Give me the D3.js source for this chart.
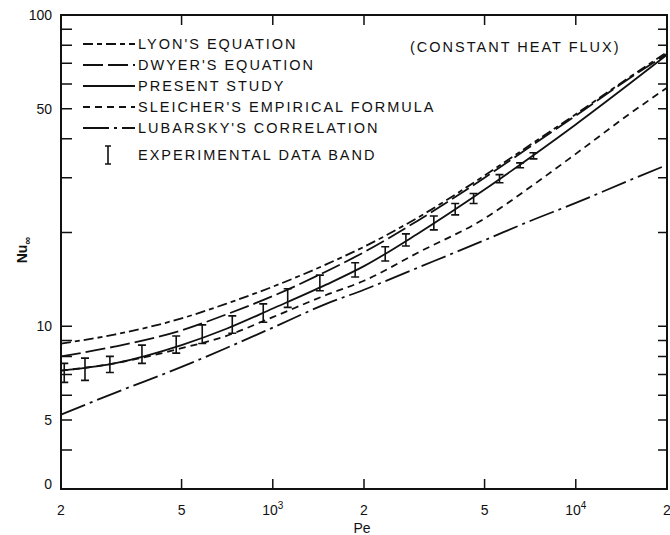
<!DOCTYPE html>
<html>
<head>
<meta charset="utf-8">
<script src="https://d3js.org/d3.v7.min.js"></script>
<style>
  body { margin: 0; background: #fff; }
  text { font-family: "Liberation Sans", Arial, sans-serif; fill: #111; }
</style>
</head>
<body>
<div id="chart"></div>
<script>
// Data (constant heat flux)
var pe = [200, 300, 500, 700, 1000, 1500, 2000, 3000, 5000, 7000, 10000, 15000, 20000];
var lyon     = [8.8, 9.4, 10.6, 11.8, 13.4, 15.8, 18.0, 22.3, 30.5, 38.0, 48.0, 63.0, 76.0];
var dwyer    = [8.0, 8.6, 9.7, 10.9, 12.5, 15.0, 17.3, 21.8, 30.0, 37.5, 47.5, 62.5, 75.0];
var present  = [7.2, 7.6, 8.7, 9.8, 11.4, 13.6, 15.6, 19.8, 27.5, 34.6, 44.5, 60.0, 74.5];
var sleicher = [7.2, 7.6, 8.5, 9.3, 10.7, 12.6, 14.0, 17.2, 22.2, 27.8, 35.8, 48.0, 58.4];
var lubarsky = [5.2, 6.1, 7.4, 8.5, 9.9, 11.8, 13.1, 15.4, 18.9, 21.7, 24.9, 29.4, 33.0];

// experimental data band
var errPe = [205, 240, 290, 370, 480, 585, 735, 930, 1120, 1430, 1870, 2350, 2750, 3400, 4000, 4600, 5600, 6550, 7250];
var errLo = [6.6, 6.7, 7.1, 7.6, 8.2, 8.8, 9.5, 10.3, 11.5, 13.0, 14.4, 16.2, 18.1, 20.4, 22.8, 24.8, 28.9, 32.3, 34.5];
var errHi = [7.6, 7.9, 8.0, 8.7, 9.3, 10.1, 10.8, 11.8, 13.2, 14.6, 16.0, 18.0, 19.8, 22.6, 24.8, 26.7, 30.7, 33.5, 36.1];

// ticks
var xTicks = [500, 1000, 2000, 5000, 10000];
var xTickLabels = [[200, "2"], [500, "5"], [1000, "10", "3"], [2000, "2"], [5000, "5"], [10000, "10", "4"], [20000, "2"]];
var yTicks = [4, 5, 6, 7, 8, 9, 10, 20, 30, 40, 50, 60, 70, 80, 90];
var yTickLabels = [[100, "100"], [50, "50"], [10, "10"], [5, "5"], [3, "0"]];

var legendNames = ["LYON'S EQUATION", "DWYER'S EQUATION", "PRESENT STUDY", "SLEICHER'S EMPIRICAL FORMULA", "LUBARSKY'S CORRELATION"];
var dashes = ["10,4,5,4", "20,5", null, "7,5", "26,5,3,5"];

var svgWidth = 670;
var svgHeight = 535;

var svg = d3.select("#chart")
  .append("svg")
  .attr("width", svgWidth)
  .attr("height", svgHeight);

var xScale = d3.scaleLog().domain([200, 20000]).range([61, 667]);
var yScale = d3.scaleLog().domain([3, 100]).range([489, 15]);

var x0 = xScale.range()[0], x1 = xScale.range()[1];
var y0 = yScale.range()[0], y1 = yScale.range()[1];

// frame
svg.append("rect")
  .attr("x", x0).attr("y", y1)
  .attr("width", x1 - x0).attr("height", y0 - y1)
  .attr("fill", "none").attr("stroke", "#111").attr("stroke-width", 2);

// inward ticks, all four sides
svg.selectAll(".xt").data(xTicks).enter().append("path")
  .attr("d", d => `M${xScale(d)},${y0}v-10M${xScale(d)},${y1}v10`)
  .attr("stroke", "#111").attr("stroke-width", 1.5);

svg.selectAll(".yt").data(yTicks).enter().append("path")
  .attr("d", d => `M${x0},${yScale(d)}h11M${x1},${yScale(d)}h-9`)
  .attr("stroke", "#111").attr("stroke-width", 1.5);

// x tick labels
var xl = svg.selectAll(".xl").data(xTickLabels).enter().append("text")
  .attr("x", d => xScale(d[0]))
  .attr("y", 515)
  .attr("text-anchor", "middle")
  .attr("font-size", "14px");
xl.append("tspan").text(d => d[1]);
xl.filter(d => d[2]).append("tspan")
  .attr("dy", -6).attr("font-size", "10px").text(d => d[2]);

// y tick labels
svg.selectAll(".yl").data(yTickLabels).enter().append("text")
  .attr("x", 52)
  .attr("y", d => yScale(d[0]) + (d[1] === "0" ? -5 : 0))
  .attr("dy", "0.36em")
  .attr("text-anchor", "end")
  .attr("font-size", "14px")
  .text(d => d[1]);

// axis titles
svg.append("text")
  .attr("x", 362).attr("y", 533)
  .attr("text-anchor", "middle")
  .attr("font-size", "14px")
  .text("Pe");

var ny = svg.append("text")
  .attr("transform", "translate(27,250) rotate(-90)")
  .attr("text-anchor", "middle")
  .attr("font-size", "14px")
  .attr("font-weight", "bold");
ny.append("tspan").text("Nu");
ny.append("tspan").attr("dy", 4).attr("font-size", "11px").text("∞");

// curves
var curves = [lyon, dwyer, present, sleicher, lubarsky];
var line = d3.line()
  .x((d, i) => xScale(pe[i]))
  .y(d => yScale(d))
  .curve(d3.curveMonotoneX);

svg.selectAll(".curve").data(curves).enter().append("path")
  .attr("d", d => line(d))
  .attr("fill", "none")
  .attr("stroke", "#111")
  .attr("stroke-width", 1.8)
  .attr("stroke-dasharray", (d, i) => dashes[i]);

// error bars
var bars = svg.selectAll(".eb").data(errPe).enter().append("g");
bars.append("path")
  .attr("d", (d, i) => {
    var x = xScale(d), a = yScale(errHi[i]), b = yScale(errLo[i]);
    return `M${x},${a}V${b}M${x - 4},${a}h8M${x - 4},${b}h8`;
  })
  .attr("fill", "none").attr("stroke", "#111").attr("stroke-width", 1.6);

// legend
var legY = [44, 65, 86, 107, 128];
svg.selectAll(".lg").data(legendNames).enter().append("path")
  .attr("d", (d, i) => `M83,${legY[i]}H135`)
  .attr("stroke", "#111").attr("stroke-width", 1.8)
  .attr("stroke-dasharray", (d, i) => dashes[i]);

svg.selectAll(".lt").data(legendNames).enter().append("text")
  .attr("x", 138).attr("y", (d, i) => legY[i])
  .attr("dy", "0.36em")
  .attr("font-size", "14.5px")
  .attr("letter-spacing", "2px")
  .text(d => d);

svg.append("path")
  .attr("d", "M108,146V164M105,146h6M105,164h6")
  .attr("stroke", "#111").attr("stroke-width", 1.6).attr("fill", "none");
svg.append("text")
  .attr("x", 138).attr("y", 155)
  .attr("dy", "0.36em")
  .attr("font-size", "14.5px")
  .attr("letter-spacing", "2px")
  .text("EXPERIMENTAL DATA BAND");

svg.append("text")
  .attr("x", 410).attr("y", 47)
  .attr("dy", "0.36em")
  .attr("font-size", "14.5px")
  .attr("letter-spacing", "2px")
  .text("(CONSTANT HEAT FLUX)");
</script>
</body>
</html>
